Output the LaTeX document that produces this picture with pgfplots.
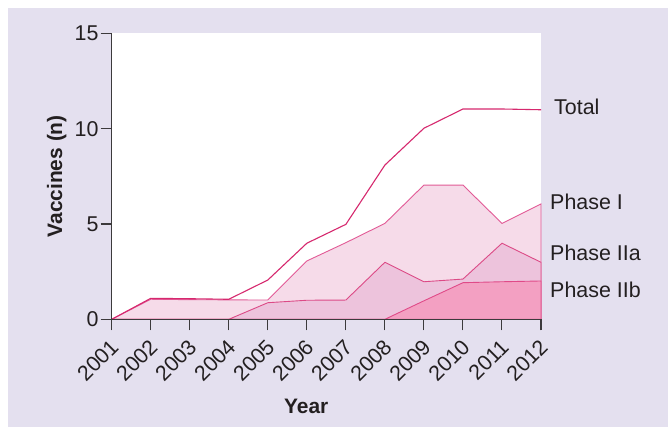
\documentclass[border=0pt]{standalone}
\usepackage{pgfplots}
\pgfplotsset{compat=1.18}
\usepackage{fontspec}
\setmainfont{Liberation Sans}

\definecolor{bg}{HTML}{E4E0EF}
\definecolor{txt}{HTML}{231F20}
\definecolor{axisgray}{HTML}{3C3A3C}
\definecolor{totline}{HTML}{D6286E}
\definecolor{pIfill}{HTML}{F6DBE9}
\definecolor{pIline}{HTML}{E25A96}
\definecolor{pIIafill}{HTML}{EDC3DC}
\definecolor{pIIaline}{HTML}{DC4A86}
\definecolor{pIIbfill}{HTML}{F3A0C2}
\definecolor{pIIbline}{HTML}{E04A88}

\begin{document}
\begin{tikzpicture}[x=1bp,y=1bp]
\useasboundingbox (0,0) rectangle (668,427);
\fill[bg] (8,0) rectangle (668,419);
\begin{axis}[
    at={(111.7bp,107.7bp)}, anchor=origin,
    scale only axis,
    width=429.3bp, height=286bp,
    xmin=2001, xmax=2012,
    ymin=0, ymax=15,
    xtick={2001,...,2012},
    ytick={0,5,10,15},
    axis x line*=bottom,
    axis y line*=left,
    axis line style={axisgray, line width=1.1pt},
    tick style={axisgray, line width=1.1pt},
    tick align=outside,
    major tick length=11bp,
    axis on top,
    clip=false,
    axis background/.style={fill=white},
    /pgf/number format/1000 sep={},
    /pgf/number format/assume math mode=true,
    tick label style={font=\fontsize{21.5}{21.5}\selectfont, text=txt},
    xticklabel style={yshift=-13bp, xshift=3bp, rotate=45, anchor=east, inner sep=0pt},
    yticklabel style={inner sep=2pt},
    xlabel={Year},
    ylabel={Vaccines (n)},
    label style={font=\fontsize{21}{21}\selectfont\bfseries, text=txt},
    xlabel style={at={(rel axis cs:0.453,-0.303)}, anchor=center},
    ylabel style={at={(rel axis cs:-0.128,0.5)}, anchor=center},
]
% Phase I
\addplot[fill=pIfill, draw=pIline, line width=0.9pt] coordinates {
  (2001,0) (2002,1.05) (2003,1.03) (2004,1.02) (2005,1.01) (2006,3.06)
  (2007,4.02) (2008,5.03) (2009,7.04) (2010,7.04) (2011,5.03) (2012,6.05)
} \closedcycle;
% Phase IIa
\addplot[fill=pIIafill, draw=pIIaline, line width=0.9pt] coordinates {
  (2001,0) (2002,0) (2003,0) (2004,0) (2005,0.87) (2006,1.0)
  (2007,1.01) (2008,2.99) (2009,1.97) (2010,2.11) (2011,3.99) (2012,2.99)
} \closedcycle;
% Phase IIb
\addplot[fill=pIIbfill, draw=pIIbline, line width=0.9pt] coordinates {
  (2001,0) (2002,0) (2003,0) (2004,0) (2005,0) (2006,0)
  (2007,0) (2008,0) (2009,0.97) (2010,1.92) (2011,1.97) (2012,2.01)
} \closedcycle;
% Total
\addplot[draw=totline, line width=1.1pt] coordinates {
  (2001,0) (2002,1.10) (2003,1.08) (2004,1.05) (2005,2.06) (2006,3.99)
  (2007,4.98) (2008,8.09) (2009,10.02) (2010,11.03) (2011,11.03) (2012,10.99)
};

\begin{scope}[every node/.style={font=\fontsize{21.5}{21.5}\selectfont, text=txt, inner sep=0pt, anchor=base west}]
\node[xshift=13bp] at (axis cs:2012,10.75) {Total};
\node[xshift=9bp] at (axis cs:2012,5.77) {Phase I};
\node[xshift=9bp] at (axis cs:2012,3.07) {Phase IIa};
\node[xshift=9bp] at (axis cs:2012,1.15) {Phase IIb};
\end{scope}
\end{axis}
\end{tikzpicture}
\end{document}
